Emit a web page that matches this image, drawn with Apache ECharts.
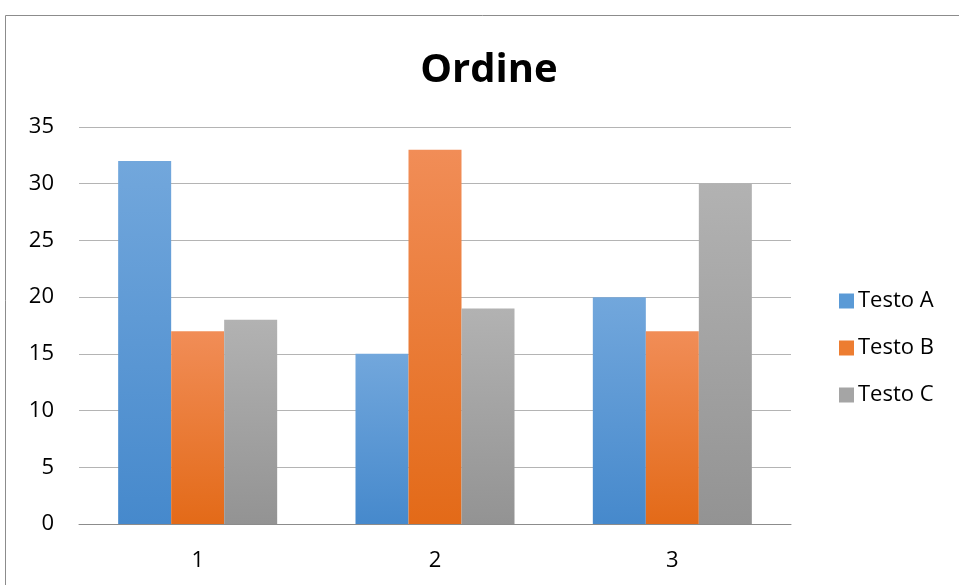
<!DOCTYPE html>
<html><head><meta charset="utf-8">
<script src="https://cdn.jsdelivr.net/npm/echarts@6/dist/echarts.min.js"></script>
<style>html,body{margin:0;padding:0;background:#fff}#c{width:959px;height:585px}</style>
</head><body><div id="c"></div>
<script>
const categories = ['1', '2', '3'];
const seriesNames = ['Testo A', 'Testo B', 'Testo C'];
const testoA = [32, 15, 20];
const testoB = [17, 33, 17];
const testoC = [18, 19, 30];
const yTicks = [0, 5, 10, 15, 20, 25, 30, 35];

const FONT = '"Open Sans", sans-serif';
function grad(top, bottom) {
  return new echarts.graphic.LinearGradient(0, 0, 0, 1, [
    { offset: 0, color: top }, { offset: 1, color: bottom }
  ]);
}
const fills = [grad('#72a7dc', '#4689cc'), grad('#f18d57', '#e36a18'), grad('#b2b2b2', '#939393')];
const legendColors = ['#5a9ad6', '#ed7d31', '#a5a5a5'];
const values = [testoA, testoB, testoC];

const chart = echarts.init(document.getElementById('c'));
chart.setOption({
  animation: false,
  graphic: [{
    type: 'rect', shape: { x: 5.5, y: 15.5, width: 1000, height: 1000 },
    style: { fill: 'none', stroke: '#8c8c8c', lineWidth: 1 }, silent: true, z: -1
  }],
  title: {
    text: 'Ordine', left: 484, top: 46, textAlign: 'center',
    textStyle: { fontFamily: FONT, fontWeight: 'bold', fontSize: 40, color: '#000' }
  },
  legend: {
    orient: 'vertical', left: 834, top: 285, itemGap: 25,
    itemWidth: 15, itemHeight: 15, icon: 'rect',
    textStyle: { fontFamily: FONT, fontSize: 22, color: '#000', padding: [0, 0, 0, -1] },
    data: seriesNames.map((n, i) => ({ name: n, itemStyle: { color: legendColors[i] } }))
  },
  grid: { left: 79, top: 127, width: 712, height: 397, containLabel: false },
  xAxis: {
    type: 'category', data: categories,
    axisLine: { lineStyle: { color: '#8c8c8c', width: 1 } },
    axisTick: { show: false },
    axisLabel: { fontFamily: FONT, fontSize: 22, color: '#000', margin: 26 }
  },
  yAxis: {
    type: 'value', min: yTicks[0], max: yTicks[yTicks.length - 1], interval: 5,
    axisLine: { show: false }, axisTick: { show: false },
    axisLabel: { fontFamily: FONT, fontSize: 22, color: '#000', margin: 25 },
    splitLine: { lineStyle: { color: '#b4b4b4', width: 1 } }
  },
  series: seriesNames.map((n, i) => ({
    name: n, type: 'bar', data: values[i],
    barGap: '0%', barCategoryGap: '33%',
    itemStyle: { color: fills[i] }
  }))
});
</script></body></html>
